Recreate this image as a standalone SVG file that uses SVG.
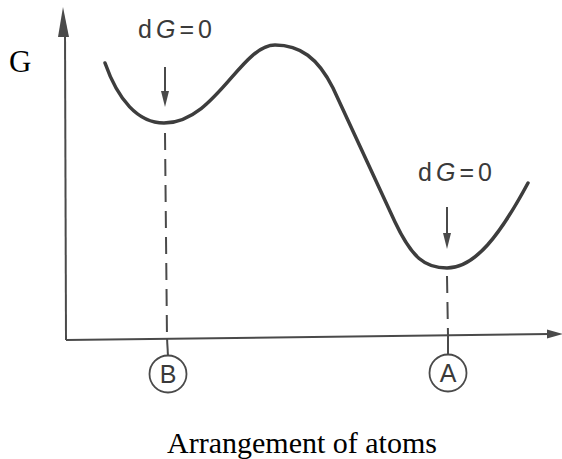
<svg xmlns="http://www.w3.org/2000/svg" width="562" height="459" viewBox="0 0 562 459">
<style>
.axis{stroke:#4a4a4a;stroke-width:2;fill:none}
.curve{stroke:#3d3d3d;stroke-width:3.5;fill:none;stroke-linecap:round}
.dash{stroke:#4a4a4a;stroke-width:2;fill:none;stroke-dasharray:17 9}
.solid{stroke:#4a4a4a;stroke-width:2;fill:none}
.lab{font-family:"Liberation Sans",Arial,sans-serif;font-size:25px;fill:#3a3a3a}
.circ{stroke:#4a4a4a;stroke-width:1.8;fill:none}
.serif{font-family:"Liberation Serif","Times New Roman",serif;fill:#000}
.head{fill:#4a4a4a}
</style>
<g id="axes">
<line class="axis" x1="66" y1="340" x2="65" y2="30"/>
<polygon class="head" points="63,7 58,37 69,37"/>
<line class="axis" x1="66" y1="340" x2="550" y2="334"/>
<polygon class="head" points="563,334 547,329.5 547,338.5"/>
</g>
<g id="curve">
<path class="curve" d="M105,63 C118,100 138,123 164,123 C215,123 241,45 275,45 C300,45 318,58 333,88 L395,222 C412,258 425,268 447,268 C475,268 500,235 528,183"/>
</g>
<g id="connectors">
<line class="solid" x1="165" y1="67" x2="165" y2="95"/>
<polygon class="head" points="165,107 161,91 169,91"/>
<line class="solid" x1="447" y1="207" x2="447" y2="236"/>
<polygon class="head" points="447,249 443,233 451,233"/>
<line class="dash" x1="165" y1="133" x2="167" y2="338"/>
<line class="solid" x1="167" y1="338" x2="168" y2="356"/>
<line class="dash" x1="447" y1="276" x2="448" y2="335"/>
<line class="solid" x1="448" y1="335" x2="448" y2="354"/>
</g>
<g id="label-G">
<text class="serif" x="9" y="72" font-size="31">G</text>
</g>
<g id="label-dG-left">
<text class="lab" x="138" y="38" textLength="74" lengthAdjust="spacing">d<tspan font-style="italic">G</tspan>=0</text>
</g>
<g id="label-dG-right">
<text class="lab" x="418" y="181" textLength="74" lengthAdjust="spacing">d<tspan font-style="italic">G</tspan>=0</text>
</g>
<g id="node-B">
<circle class="circ" cx="168" cy="374" r="18.5"/>
<text class="lab" x="168" y="383" text-anchor="middle" font-size="24">B</text>
</g>
<g id="node-A">
<circle class="circ" cx="448" cy="373" r="18.5"/>
<text class="lab" x="448" y="382" text-anchor="middle" font-size="24">A</text>
</g>
<g id="caption">
<text class="serif" x="302" y="453" text-anchor="middle" font-size="30">Arrangement of atoms</text>
</g>
</svg>
